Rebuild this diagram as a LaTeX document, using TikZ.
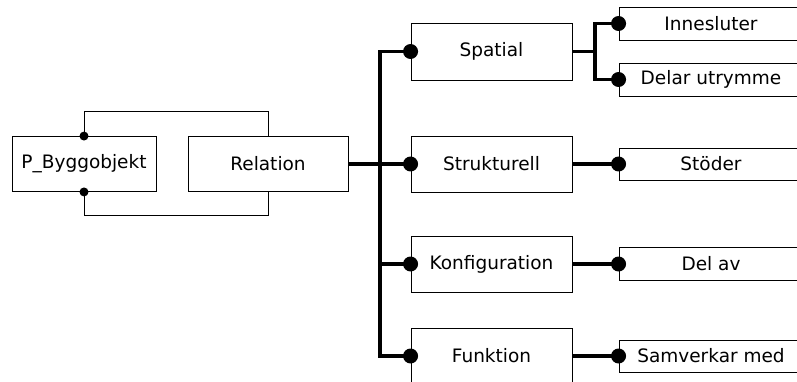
\documentclass[tikz,border=0pt]{standalone}
\usepackage{fontspec}
\setmainfont{DejaVu Sans}
\begin{document}
\begin{tikzpicture}[x=1pt, y=-1pt, line join=miter,
	font=\fontsize{18.5}{22}\selectfont,
	box/.style={draw, line width=.9pt, inner sep=0pt, minimum width=161pt, minimum height=56pt},
	tag/.style={draw, line width=.9pt, inner sep=0pt, minimum width=184pt, minimum height=33pt},
	link/.style={line width=3.6pt}]
	\useasboundingbox (0,0) rectangle (797,382);
	
	% objekt och relation
	\node[box, minimum width=144pt, minimum height=55pt] (pb) at (84,164) {P\_Byggobjekt};
	\node[box, minimum width=160pt, minimum height=55pt] (rel) at (268,164) {Relation};
	\draw[line width=1pt] (pb.north)--++(0,-25) -| (rel.north);
	\draw[line width=1pt] (pb.south)--++(0,24) -| (rel.south);
	\foreach \p in {pb.north,pb.south}
	\fill (\p) circle (4.5pt);
	
	% relationstyper
	\node[box, minimum height=57pt] (spa) at (491.5,51.5) {Spatial};
	\node[box] (str) at (491.5,164) {Strukturell};
	\node[box] (konf) at (491.5,264) {Konfiguration};
	\node[box] (funk) at (491.5,356) {Funktion};
	
	\node[tag] (inn) at (711,23.5) {Innesluter};
	\node[tag] (delu) at (711,79.5) {Delar utrymme};
	\node[tag, minimum height=32pt] (sto) at (711,164) {Stöder};
	\node[tag] (delav) at (711,264) {Del av};
	\node[tag, minimum height=32pt] (sam) at (711,356) {Samverkar med};
	
	\coordinate (bus) at (380,164);
	\coordinate (fork) at (595,51.5);
	\draw[link] (spa.west) -| (bus) |- (funk.west);
	\draw[link] (rel.east)--(str.west);
	\draw[link] (konf.west)--(konf.west -| bus);
	\draw[link] (spa.east)--(fork);
	\draw[link] (inn.west) -| (fork) |- (delu.west);
	\draw[link] (str.east)--(sto.west)
	(konf.east)--(delav.west)
	(funk.east)--(sam.west);
	\foreach \p in {spa.west,str.west,konf.west,funk.west,inn.west,delu.west,sto.west,delav.west,sam.west}
	\fill (\p) circle (7.5pt);
\end{tikzpicture}
\end{document}
